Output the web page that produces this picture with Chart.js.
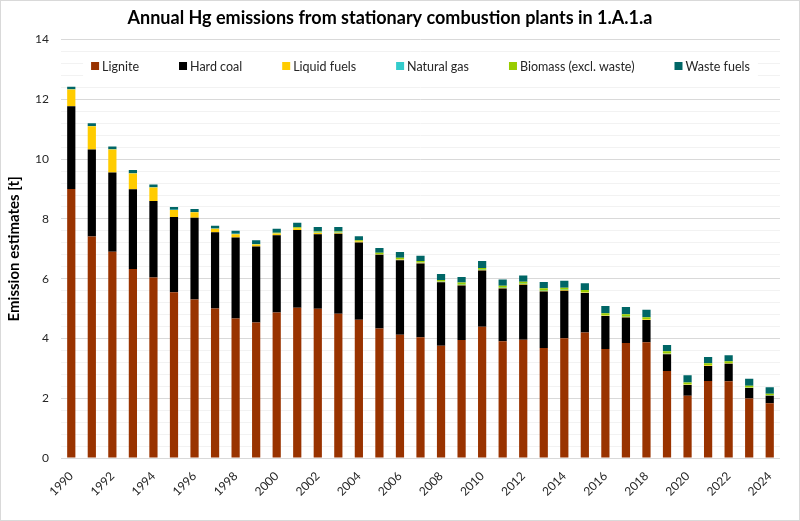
<!DOCTYPE html>
<html>
<head>
<meta charset="utf-8">
<script src="https://cdn.jsdelivr.net/npm/chart.js@4/dist/chart.umd.min.js"></script>
<style>
  html, body { margin: 0; padding: 0; background: #fff; }
  #wrap { width: 800px; height: 521px; }
</style>
</head>
<body>
<div id="wrap"><canvas id="myChart" width="800" height="521"></canvas></div>
<script>
'use strict';
const years = [];
for (let y = 1990; y <= 2024; y++) { years.push(String(y)); }

const lignite = [9.00, 7.41, 6.90, 6.32, 6.04, 5.55, 5.30, 5.00, 4.67, 4.53, 4.87, 5.03, 4.99, 4.83, 4.63, 4.33, 4.12, 4.04, 3.76, 3.95, 4.39, 3.91, 3.96, 3.68, 4.01, 4.20, 3.65, 3.85, 3.87, 2.91, 2.08, 2.58, 2.57, 1.99, 1.83];
const hardCoal = [2.77, 2.91, 2.65, 2.67, 2.56, 2.51, 2.74, 2.55, 2.71, 2.55, 2.58, 2.60, 2.50, 2.67, 2.58, 2.47, 2.50, 2.47, 2.12, 1.82, 1.88, 1.76, 1.84, 1.89, 1.59, 1.32, 1.10, 0.85, 0.75, 0.56, 0.36, 0.50, 0.58, 0.35, 0.25];
const liquidFuels = [0.56, 0.78, 0.77, 0.53, 0.45, 0.24, 0.18, 0.12, 0.11, 0.06, 0.06, 0.06, 0.05, 0.04, 0.04, 0.02, 0.02, 0.02, 0.02, 0.02, 0.02, 0.02, 0.02, 0.02, 0.02, 0.02, 0.02, 0.02, 0.02, 0.02, 0.02, 0.02, 0.02, 0.01, 0.01];
const naturalGas = [0.01, 0.01, 0.01, 0.01, 0.01, 0.01, 0.01, 0.01, 0.01, 0.01, 0.01, 0.01, 0.01, 0.01, 0.01, 0.01, 0.01, 0.01, 0.01, 0.01, 0.01, 0.01, 0.01, 0.01, 0.01, 0.01, 0.01, 0.01, 0.01, 0.01, 0.01, 0.01, 0.01, 0.01, 0.01];
const biomass = [0, 0, 0, 0, 0, 0, 0, 0, 0, 0.01, 0.02, 0.02, 0.03, 0.03, 0.03, 0.04, 0.05, 0.05, 0.05, 0.07, 0.06, 0.06, 0.07, 0.08, 0.07, 0.07, 0.06, 0.08, 0.06, 0.07, 0.06, 0.06, 0.06, 0.06, 0.05];
const wasteFuels = [0.08, 0.09, 0.09, 0.11, 0.09, 0.09, 0.10, 0.09, 0.10, 0.13, 0.13, 0.15, 0.15, 0.15, 0.13, 0.16, 0.19, 0.18, 0.20, 0.19, 0.23, 0.21, 0.21, 0.21, 0.23, 0.23, 0.25, 0.24, 0.25, 0.21, 0.24, 0.21, 0.20, 0.23, 0.22];

const fontFam = 'Lato, "Open Sans", sans-serif';

// white background + thin grey frame
const framePlugin = {
  id: 'frame',
  beforeDraw(chart) {
    const c = chart.ctx;
    c.save();
    c.fillStyle = '#fff';
    c.fillRect(0, 0, chart.width, chart.height);
    c.strokeStyle = '#d9d9d9';
    c.lineWidth = 1;
    c.strokeRect(0.5, 0.5, chart.width - 1, chart.height - 1);
    c.restore();
  }
};

// legend drawn inside the plot area, like the Excel original
const innerLegend = {
  id: 'innerLegend',
  afterDatasetsDraw(chart) {
    const c = chart.ctx;
    const area = chart.chartArea;
    const gap = 40;
    c.save();
    c.font = '12.5px ' + fontFam;
    let items = chart.data.datasets.map(ds => ({
      text: ds.label, color: ds.backgroundColor, w: 11 + c.measureText(ds.label).width
    }));
    let total = items.reduce((s, it) => s + it.w, 0) + gap * (items.length - 1);
    let x = (area.left + area.right) / 2 - total / 2;
    let y = 66;
    c.fillStyle = '#fff';
    c.fillRect(x - 8, y - 12, total + 16, 24);
    c.textBaseline = 'middle';
    for (let i = 0; i < items.length; i++) {
      c.fillStyle = items[i].color;
      c.fillRect(x, y - 4, 8, 8);
      c.fillStyle = '#262626';
      c.fillText(items[i].text, x + 11, y + 1);
      x += items[i].w + gap;
    }
    c.restore();
  }
};

function isMajor(v) {
  return Math.abs(v / 2 - Math.round(v / 2)) < 1e-6;
}

let ctx = document.getElementById('myChart').getContext('2d');
let myChart = new Chart(ctx, {
  type: 'bar',
  data: {
    labels: years,
    datasets: [
      { label: 'Lignite', data: lignite, backgroundColor: '#993300' },
      { label: 'Hard coal', data: hardCoal, backgroundColor: '#000000' },
      { label: 'Liquid fuels', data: liquidFuels, backgroundColor: '#ffcc00' },
      { label: 'Natural gas', data: naturalGas, backgroundColor: '#33cccc' },
      { label: 'Biomass (excl. waste)', data: biomass, backgroundColor: '#99cc00' },
      { label: 'Waste fuels', data: wasteFuels, backgroundColor: '#006666' }
    ]
  },
  options: {
    responsive: false,
    animation: false,
    layout: { padding: { top: 0, right: 20, left: 0, bottom: 0 } },
    datasets: { bar: { barPercentage: 0.4, categoryPercentage: 1.0 } },
    plugins: {
      legend: { display: false },
      tooltip: { enabled: false },
      title: {
        display: true,
        text: 'Annual Hg emissions from stationary combustion plants in 1.A.1.a',
        color: '#000',
        font: { family: fontFam, size: 18, weight: 'bold' },
        padding: { top: 7, bottom: 11 }
      }
    },
    scales: {
      x: {
        stacked: true,
        grid: { display: false },
        border: { display: false },
        ticks: {
          autoSkip: false,
          maxRotation: 45,
          minRotation: 45,
          color: '#262626',
          font: { family: fontFam, size: 12 },
          callback: function (val, idx) { return idx % 2 === 0 ? this.getLabelForValue(val) : ''; }
        },
        afterFit(s) { s.height = 63; }
      },
      y: {
        stacked: true,
        min: 0,
        max: 14,
        border: { display: false },
        grid: {
          drawTicks: false,
          color: c => isMajor(c.tick.value) ? '#d9d9d9' : '#f2f2f2'
        },
        ticks: {
          stepSize: 0.4,
          autoSkip: false,
          padding: 12,
          color: '#262626',
          font: { family: fontFam, size: 12 },
          callback: v => isMajor(v) ? String(Math.round(v)) : ''
        },
        title: {
          display: true,
          text: 'Emission estimates [t]',
          color: '#000',
          font: { family: fontFam, size: 15, weight: 'bold' },
          padding: { top: 5, bottom: 4 }
        },
        afterFit(s) { s.width = 61; }
      }
    }
  },
  plugins: [framePlugin, innerLegend]
});
</script>
</body>
</html>
